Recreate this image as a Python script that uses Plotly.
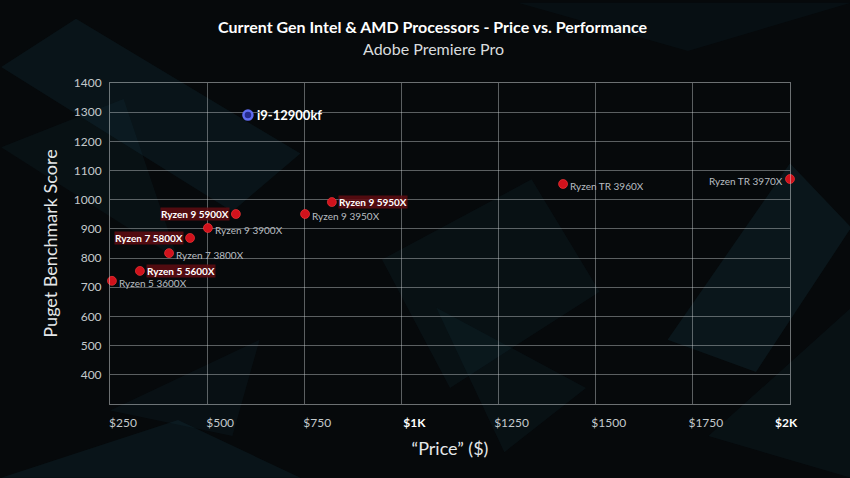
import plotly.graph_objects as go

# ---- data ----
amd_names = ["Ryzen 5 3600X", "Ryzen 5 5600X", "Ryzen 7 3800X", "Ryzen 7 5800X",
             "Ryzen 9 3900X", "Ryzen 9 5900X", "Ryzen 9 3950X", "Ryzen 9 5950X",
             "Ryzen TR 3960X", "Ryzen TR 3970X"]
amd_price = [255, 327, 402, 456, 502, 574, 752, 821, 1416, 2000]
amd_score = [722, 756, 817, 869, 903, 951, 951, 992, 1054, 1071]
amd_is_new = [False, True, False, True, False, True, False, True, False, False]
amd_label_side = ["right", "right", "right", "left", "right", "left", "right", "right", "right", "left"]

intel_names = ["i9-12900kf"]
intel_price = [605]
intel_score = [1290]

x_tickvals = [250, 500, 750, 1000, 1250, 1500, 1750, 2000]
x_ticktext = ["$250", "$500", "$750", "<b><span style='color:#ffffff'>$1K</span></b>",
              "$1250", "$1500", "$1750",
              "<b><span style='color:#ffffff'>$2K</span></b>" + "\u00a0" * 11]
y_tickvals = [400, 500, 600, 700, 800, 900, 1000, 1100, 1200, 1300, 1400]

title_text = "Current Gen Intel & AMD Processors - Price vs. Performance"
subtitle_text = "Adobe Premiere Pro"

FONT = "Lato"
BG = "#06090b"

fig = go.Figure()

# decorative teal haze in the background (paper coordinates, whole canvas)
streaks = [
    ("M -0.16 1.05 L 0.18 0.60 L 0.28 0.78 L -0.05 1.20 Z", 0.14),
    ("M -0.16 0.80 L 0.10 0.45 L 0.02 0.95 Z", 0.10),
    ("M -0.16 -0.23 L 0.10 -0.05 L 0.28 -0.23 Z", 0.14),
    ("M 0.00 -0.02 L 0.22 0.20 L 0.18 -0.10 Z", 0.09),
    ("M 0.40 0.45 L 0.62 0.70 L 0.72 0.35 L 0.50 0.05 Z", 0.10),
    ("M 0.48 0.30 L 0.70 0.05 L 0.58 -0.15 Z", 0.10),
    ("M 0.82 0.20 L 1.00 0.75 L 1.09 0.55 L 0.95 0.10 Z", 0.16),
    ("M 0.88 -0.10 L 1.09 0.30 L 1.09 -0.23 Z", 0.10),
    ("M 0.60 1.25 L 0.85 1.10 L 1.09 1.25 Z", 0.08),
]
for p, a in streaks:
    fig.add_shape(type="path", path=p, xref="paper", yref="paper", layer="below",
                  fillcolor=f"rgba(28,92,112,{a})", line=dict(width=0))

fig.add_trace(go.Scatter(
    x=amd_price, y=amd_score, mode="markers",
    marker=dict(size=9, color="#d0121c", line=dict(width=1, color="rgba(255,60,60,0.6)")),
    hoverinfo="text", text=amd_names, showlegend=False, cliponaxis=False,
))
fig.add_trace(go.Scatter(
    x=intel_price, y=intel_score, mode="markers",
    marker=dict(size=9, color="#262b8c", line=dict(width=2.5, color="#5f6cf0")),
    hoverinfo="text", text=intel_names, showlegend=False, cliponaxis=False,
))

for n, px_, sc, new, side in zip(amd_names, amd_price, amd_score, amd_is_new, amd_label_side):
    if new:
        txt = f"<b>{n}</b>"
        font = dict(family=FONT, size=10, color="#ffffff")
        bg = "rgba(95,12,18,0.85)"
        ys = 0
    else:
        txt = n
        font = dict(family=FONT, size=10, color="#b9bec2")
        bg = None
        ys = -2
    fig.add_annotation(
        x=px_, y=sc, text=txt, showarrow=False, font=font,
        xanchor="left" if side == "right" else "right",
        xshift=6 if side == "right" else -6, yshift=ys,
        bgcolor=bg, borderpad=0,
    )

for n, px_, sc in zip(intel_names, intel_price, intel_score):
    fig.add_annotation(x=px_, y=sc, text=f"<b>{n}</b>", showarrow=False,
                       font=dict(family=FONT, size=13, color="#ffffff"),
                       xanchor="left", xshift=7)

# title and subtitle
fig.add_annotation(xref="paper", yref="paper", x=0.475, y=1.1745, text=f"<b>{title_text}</b>",
                   showarrow=False, xanchor="center", yanchor="middle",
                   font=dict(family=FONT, size=16, color="#ffffff"))
fig.add_annotation(xref="paper", yref="paper", x=0.475, y=1.106, text=subtitle_text,
                   showarrow=False, xanchor="center", yanchor="middle",
                   font=dict(family=FONT, size=16, color="#d8dcde"))

fig.update_layout(
    width=850, height=478,
    paper_bgcolor=BG, plot_bgcolor="rgba(0,0,0,0)",
    margin=dict(l=110, r=60, t=83, b=74, autoexpand=False),
    font=dict(family=FONT, color="#d0d4d6"),
    xaxis=dict(
        range=[250, 2000], tickvals=x_tickvals, ticktext=x_ticktext,
        showgrid=True, gridcolor="rgba(210,215,218,0.42)", gridwidth=1,
        showline=True, linecolor="rgba(210,215,218,0.5)", mirror=True,
        zeroline=False, ticks="", ticklabelshift=13, ticklabelstandoff=8,
        tickfont=dict(family=FONT, size=12, color="#c4c9cc"),
        title=dict(text="“Price” ($)", font=dict(family=FONT, size=18, color="#e4e7e9"), standoff=12),
    ),
    yaxis=dict(
        range=[300, 1400], tickvals=y_tickvals,
        showgrid=True, gridcolor="rgba(210,215,218,0.42)", gridwidth=1,
        showline=True, linecolor="rgba(210,215,218,0.5)", mirror=True,
        zeroline=False, ticks="", ticklabelstandoff=5,
        tickfont=dict(family=FONT, size=12, color="#c4c9cc"),
        title=dict(text="Puget Benchmark Score", font=dict(family=FONT, size=18, color="#e4e7e9"), standoff=11),
    ),
)

fig.write_html(
    "out.html",
    config={"displayModeBar": False},
    post_script=f"document.body.style.margin='0';document.body.style.background='{BG}';",
)
